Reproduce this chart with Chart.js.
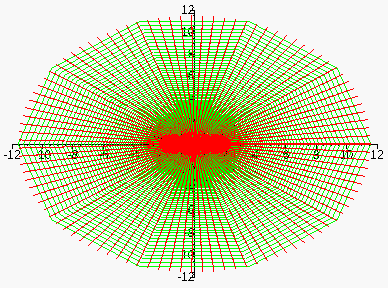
<!DOCTYPE html>
<html>
<head>
<meta charset="utf-8">
<script src="https://cdn.jsdelivr.net/npm/chart.js@4.4.1/dist/chart.umd.min.js"></script>
<style>
  html, body { margin: 0; padding: 0; background: #f8f8f8; }
  canvas { display: block; filter: url(#crisp); }
</style>
</head>
<body>
<svg width="0" height="0" style="position:absolute">
  <filter id="crisp" color-interpolation-filters="sRGB">
    <feComponentTransfer>
      <feFuncR type="discrete" tableValues="0 1"/>
      <feFuncG type="discrete" tableValues="0 1"/>
      <feFuncB type="discrete" tableValues="0 1"/>
      <feFuncA type="discrete" tableValues="0 1"/>
    </feComponentTransfer>
  </filter>
</svg>
<canvas id="chart" width="388" height="288"></canvas>
<script>
// image of a u/v grid under w = cos(u + iv)
// red curves: u fixed (degrees)
const redU = [
  0, 3.64, 7.27, 10.91, 14.55, 18.18, 21.82, 25.45, 29.09, 32.73,
  36.36, 40, 43.64, 47.27, 50.91, 54.55, 58.18, 61.82, 65.45, 69.09,
  72.73, 76.36, 80, 83.64, 87.27, 90.91, 94.55, 98.18, 101.82, 105.45,
  109.09, 112.73, 116.36, 120, 123.64, 127.27, 130.91, 134.55, 138.18, 141.82,
  145.45, 149.09, 152.73, 156.36, 160, 163.64, 167.27, 170.91, 174.55, 178.18,
  181.82, 185.45, 189.09, 192.73, 196.36, 200, 203.64, 207.27, 210.91, 214.55,
  218.18, 221.82, 225.45, 229.09, 232.73, 236.36, 240, 243.64, 247.27, 250.91,
  254.55, 258.18, 261.82, 265.45, 269.09, 272.73, 276.36, 280, 283.64, 287.27,
  290.91, 294.55, 298.18, 301.82, 305.45, 309.09, 312.73, 316.36, 320, 323.64,
  327.27, 330.91, 334.55, 338.18, 341.82, 345.45, 349.09, 352.73, 356.36, 360,
];
// green curves: v fixed
const greenV = [
  0, 0.032, 0.063, 0.095, 0.127, 0.159, 0.190, 0.222, 0.254, 0.286,
  0.317, 0.349, 0.381, 0.413, 0.444, 0.476, 0.508, 0.539, 0.571, 0.603,
  0.635, 0.666, 0.698, 0.730, 0.762, 0.793, 0.825, 0.857, 0.889, 0.920,
  0.952, 0.984, 1.015, 1.047, 1.079, 1.111, 1.142, 1.174, 1.206, 1.238,
  1.269, 1.301, 1.333, 1.365, 1.396, 1.428, 1.460, 1.491, 1.523, 1.555,
  1.587, 1.618, 1.650, 1.682, 1.714, 1.745, 1.777, 1.809, 1.840, 1.872,
  1.904, 1.936, 1.967, 1.999, 2.031, 2.063, 2.094, 2.126, 2.158, 2.190,
  2.221, 2.253, 2.285, 2.317, 2.348, 2.380, 2.412, 2.443, 2.475, 2.507,
  2.539, 2.570, 2.602, 2.634, 2.665, 2.697, 2.729, 2.761, 2.792, 2.824,
  2.856, 2.888, 2.919, 2.951, 2.983, 3.015, 3.046, 3.078, 3.110, 3.142,
];
// sample points along each curve
const sampleU = [0, 36, 72, 108, 144, 180, 216, 252, 288, 324, 360];
const sampleV = [0, 0.314, 0.628, 0.942, 1.257, 1.571, 1.885, 2.199, 2.513, 2.827, 3.142];

const axisLabels = [-12, -10, -8, -6, -4, -2, 2, 4, 6, 8, 10, 12];

const rad = (deg) => deg * Math.PI / 180;
const w = (uDeg, v) => ({x: Math.cos(rad(uDeg)) * Math.cosh(v), y: -Math.sin(rad(uDeg)) * Math.sinh(v)});

const redPoints = [];
redU.forEach((u) => {
  sampleV.forEach((v) => redPoints.push(w(u, v)));
  redPoints.push({x: 0, y: null});
});

const greenPoints = [];
greenV.forEach((v) => {
  sampleU.forEach((u) => greenPoints.push(w(u, v)));
  greenPoints.push({x: 0, y: null});
});

function tickLabel(value) {
  return axisLabels.includes(value) ? String(value) : '';
}

const tickFont = {family: 'Liberation Sans', size: 12};

// labelled axis, major ticks every 2
const axis = (pos, pad) => ({
  type: 'linear',
  position: pos,
  min: -12,
  max: 12,
  z: 2,
  grid: {drawOnChartArea: false, drawTicks: true, tickLength: 4, tickColor: '#000'},
  border: {display: true, color: '#000', width: 1},
  ticks: {stepSize: 2, autoSkip: false, maxRotation: 0, color: '#000', font: tickFont, padding: pad, callback: tickLabel},
});

// short minor ticks every 0.5
const minorAxis = (dir, pos) => ({
  type: 'linear',
  axis: dir,
  position: pos,
  min: -12,
  max: 12,
  z: 1,
  grid: {drawOnChartArea: false, drawTicks: true, tickLength: 2, tickColor: '#000'},
  border: {display: false},
  ticks: {stepSize: 0.5, autoSkip: false, maxRotation: 0, font: tickFont, callback: () => ''},
});

new Chart(document.getElementById('chart').getContext('2d'), {
  type: 'scatter',
  data: {
    datasets: [
      {data: redPoints, showLine: true, spanGaps: false, borderColor: '#ff0000', borderWidth: 1, pointRadius: 0},
      {data: greenPoints, showLine: true, spanGaps: false, borderColor: '#00ff00', borderWidth: 1, pointRadius: 0},
    ],
  },
  options: {
    responsive: false,
    animation: false,
    devicePixelRatio: 1,
    layout: {padding: {left: 12, right: 11, top: 8, bottom: 6}},
    plugins: {legend: {display: false}, tooltip: {enabled: false}},
    scales: {
      x: axis({y: 0}, 0),
      y: axis({x: 0}, 3),
      xMinor: minorAxis('x', {y: 0}),
      yMinor: minorAxis('y', {x: 0}),
    },
  },
});
</script>
</body>
</html>
